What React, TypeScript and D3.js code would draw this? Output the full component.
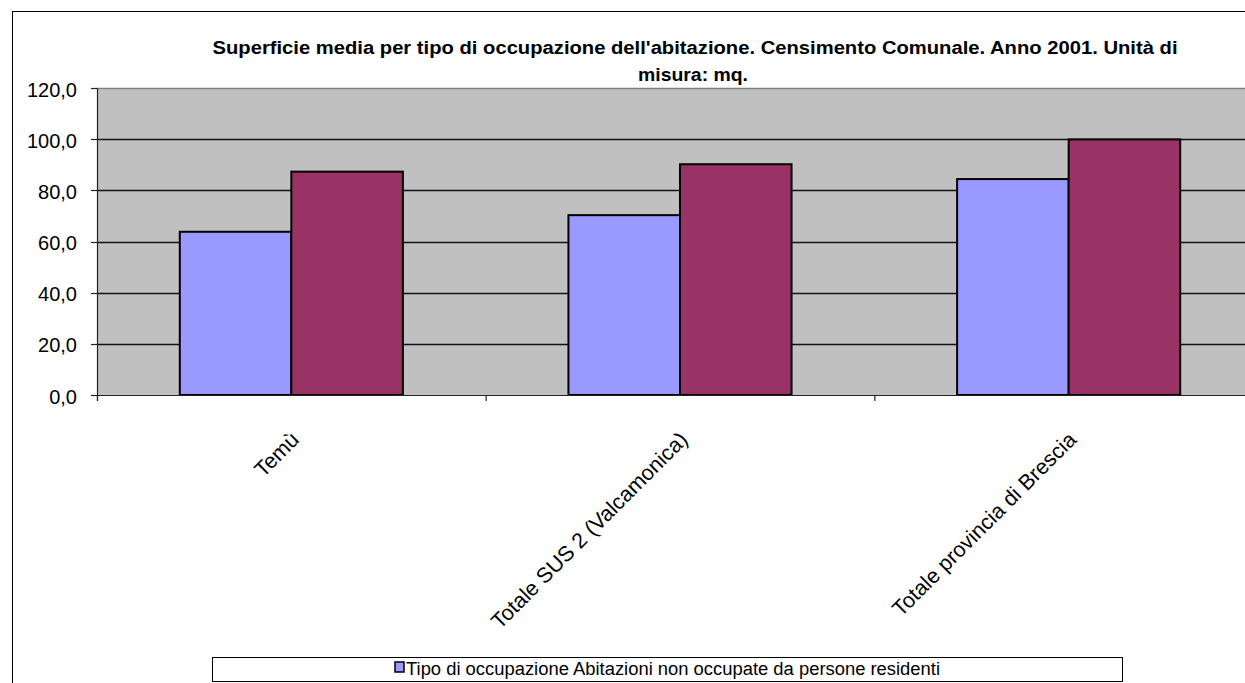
import React from "react";
import * as d3 from "d3";

const categories = ["Temù", "Totale SUS 2 (Valcamonica)", "Totale provincia di Brescia"];
const seriesNames = [
  "Tipo di occupazione  Abitazioni  non occupate da persone  residenti",
  "Tipo di occupazione  Abitazioni occupate da persone residenti",
];
const nonOccupate = [63.8, 70.3, 84.4];
const occupate = [87.3, 90.2, 99.9];
const seriesValues = [nonOccupate, occupate];
const seriesColors = ["#9999FF", "#993366"];
const yTicks = [0, 20, 40, 60, 80, 100, 120];
const titleLines = [
  "Superficie media per tipo di occupazione dell'abitazione. Censimento Comunale. Anno 2001. Unità di",
  "misura: mq.",
];

const W = 1245;
const H = 683;
const plotLeft = 97;
const plotRight = 1263;
const plotTop = 88;
const plotBottom = 395;

export default function App() {
  const y = d3.scaleLinear().domain([0, 120]).range([plotBottom, plotTop]);
  const x = d3
    .scaleBand<string>()
    .domain(categories)
    .range([plotLeft, plotRight])
    .paddingInner(0.426)
    .paddingOuter(0.213);
  const xs = d3
    .scaleBand<number>()
    .domain([0, 1])
    .range([0, x.bandwidth()]);
  const step = x.step();
  const boundaries = categories.map((_, i) => plotLeft + i * step);
  const fmt = (v: number) => d3.format(".1f")(v).replace(".", ",");

  return (
    <svg
      width={W}
      height={H}
      style={{ position: "absolute", left: 0, top: 0, background: "#fff" }}
      fontFamily="'Liberation Sans', Arial, sans-serif"
    >
      {/* chart outer border */}
      <rect x={12.5} y={11.5} width={W + 10} height={H + 10} fill="#fff" stroke="#000" strokeWidth={1} />

      {/* title */}
      <text x={695} y={54} textAnchor="middle" fontSize={18} fontWeight="bold" textLength={965} lengthAdjust="spacingAndGlyphs">
        {titleLines[0]}
      </text>
      <text x={693} y={81} textAnchor="middle" fontSize={18} fontWeight="bold" textLength={110} lengthAdjust="spacingAndGlyphs">
        {titleLines[1]}
      </text>

      {/* plot area */}
      <rect x={plotLeft} y={plotTop} width={plotRight - plotLeft} height={plotBottom - plotTop} fill="#C0C0C0" />
      {yTicks.filter((t) => t > 0).map((t) => (
        <line
          key={"g" + t}
          x1={plotLeft}
          x2={plotRight}
          y1={Math.round(y(t)) + 0.5}
          y2={Math.round(y(t)) + 0.5}
          stroke={t === 120 ? "#808080" : "#111"}
          strokeWidth={1.3}
        />
      ))}

      {/* bars */}
      {categories.map((c, i) => (
        <g key={c} transform={`translate(${x(c)},0)`}>
          {seriesValues.map((vals, s) => (
            <rect
              key={s}
              x={xs(s)}
              y={y(vals[i])}
              width={xs.bandwidth()}
              height={y(0) - y(vals[i])}
              fill={seriesColors[s]}
              stroke="#000"
              strokeWidth={2}
            />
          ))}
        </g>
      ))}

      {/* axes */}
      <line x1={plotLeft + 0.5} x2={plotLeft + 0.5} y1={plotTop} y2={plotBottom + 6} stroke="#222" strokeWidth={1.2} />
      <line x1={plotLeft} x2={plotRight} y1={plotBottom + 0.5} y2={plotBottom + 0.5} stroke="#222" strokeWidth={1.2} />
      {yTicks.map((t) => (
        <g key={"t" + t}>
          <line x1={plotLeft - 6} x2={plotLeft} y1={Math.round(y(t)) + 0.5} y2={Math.round(y(t)) + 0.5} stroke="#222" strokeWidth={1.2} />
          <text x={77} y={y(t) + 1.5} textAnchor="end" dominantBaseline="central" fontSize={20} fill="#000">
            {fmt(t)}
          </text>
        </g>
      ))}
      {boundaries.map((bx, i) => (
        <line key={"xb" + i} x1={bx + 0.5} x2={bx + 0.5} y1={plotBottom} y2={plotBottom + 6} stroke="#222" strokeWidth={1.2} />
      ))}

      {/* category labels */}
      {categories.map((c) => {
        const px = (x(c) as number) + x.bandwidth() / 2 + 9;
        const py = 441;
        return (
          <text key={"l" + c} x={px} y={py} textAnchor="end" fontSize={21.5} transform={`rotate(-45 ${px} ${py})`}>
            {c}
          </text>
        );
      })}

      {/* legend */}
      <rect x={212.5} y={657.5} width={910} height={24} fill="#fff" stroke="#000" strokeWidth={1} />
      <rect x={395} y={662} width={9} height={10} fill={seriesColors[0]} stroke="#000" strokeWidth={1.5} />
      <text
        x={406}
        y={675}
        fontSize={18}
        fontFamily="'Liberation Sans Narrow', 'Liberation Sans', Arial, sans-serif"
        textLength={534}
        lengthAdjust="spacingAndGlyphs"
      >
        {seriesNames[0]}
      </text>
    </svg>
  );
}
